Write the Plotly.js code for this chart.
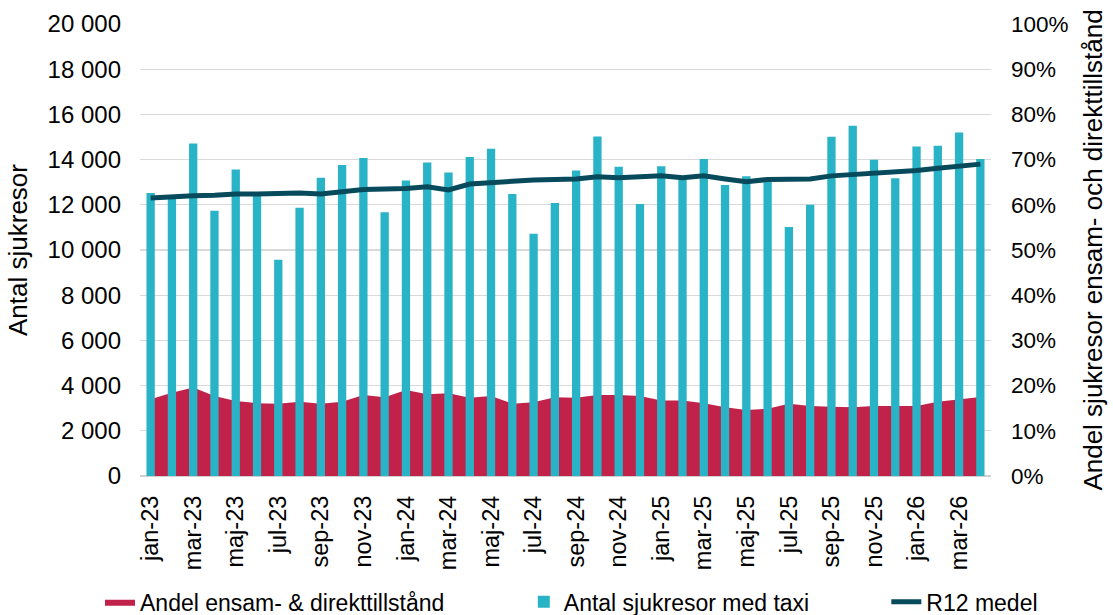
<!DOCTYPE html>
<html>
<head>
<meta charset="utf-8">
<script src="https://cdn.plot.ly/plotly-3.0.1.min.js"></script>
<style>
html,body{margin:0;padding:0;background:#fff;}
#chart{width:1113px;height:615px;}
</style>
</head>
<body>
<div id="chart"></div>
<script>
var categories = [
  'jan-23','feb-23','mar-23','apr-23','maj-23','jun-23','jul-23','aug-23','sep-23','okt-23','nov-23','dec-23',
  'jan-24','feb-24','mar-24','apr-24','maj-24','jun-24','jul-24','aug-24','sep-24','okt-24','nov-24','dec-24',
  'jan-25','feb-25','mar-25','apr-25','maj-25','jun-25','jul-25','aug-25','sep-25','okt-25','nov-25','dec-25',
  'jan-26','feb-26','mar-26','apr-26'
];
var tickLabels = ['jan-23','mar-23','maj-23','jul-23','sep-23','nov-23','jan-24','mar-24','maj-24','jul-24',
  'sep-24','nov-24','jan-25','mar-25','maj-25','jul-25','sep-25','nov-25','jan-26','mar-26'];

var antalTaxi = [
  12525, 12300, 14710, 11740, 13560, 12400, 9570, 11870, 13200, 13765, 14075, 11665,
  13070, 13870, 13425, 14120, 14475, 12480, 10720, 12080, 13515, 15020, 13680, 12035,
  13705, 13150, 14030, 12880, 13260, 13025, 11015, 12005, 15010, 15495, 13990, 13170,
  14580, 14610, 15200, 14030
];
var andelEnsam = [
  17.0, 18.4, 19.6, 17.7, 16.6, 16.1, 16.0, 16.4, 16.0, 16.4, 17.9, 17.4,
  19.0, 18.1, 18.3, 17.3, 17.7, 16.0, 16.3, 17.4, 17.3, 17.9, 17.9, 17.7,
  16.7, 16.7, 16.1, 15.2, 14.6, 14.9, 16.0, 15.5, 15.3, 15.2, 15.5, 15.5,
  15.5, 16.4, 17.0, 17.5
];
var r12Medel = [
  61.5, 61.8, 62.0, 62.1, 62.4, 62.4, 62.6, 62.6, 62.4, 62.9, 63.4, 63.5,
  63.6, 64.0, 63.3, 64.6, 65.0, 65.2, 65.5, 65.7, 65.7, 66.2, 66.0, 66.2,
  66.4, 66.0, 66.4, 65.7, 65.1, 65.6, 65.7, 65.7, 66.4, 66.7, 66.9, 67.3,
  67.6, 68.1, 68.6, 69.0
];

var FONT = 'Liberation Sans, Arial, sans-serif';
var RED = '#C1224A', TEAL = '#29B3C6', DARK = '#064A5C';

var traces = [
  {
    type: 'scatter', x: categories, y: andelEnsam, yaxis: 'y',
    name: 'Andel ensam- & direkttillstånd', mode: 'lines',
    fill: 'tozeroy', fillcolor: RED, line: {width: 0, color: RED},
    legend: 'legend', hoverinfo: 'skip'
  },
  {
    type: 'bar', x: categories, y: antalTaxi, yaxis: 'y2',
    name: 'Antal sjukresor med taxi', marker: {color: TEAL},
    legend: 'legend2'
  },
  {
    type: 'scatter', x: categories, y: r12Medel, yaxis: 'y3',
    name: 'R12 medel', mode: 'lines',
    line: {color: DARK, width: 5},
    legend: 'legend3'
  }
];

var legendBase = {
  orientation: 'h', yanchor: 'top', xanchor: 'left', y: -0.231,
  font: {family: FONT, size: 23, color: '#000'}, bgcolor: 'rgba(0,0,0,0)'
};

var layout = {
  width: 1113, height: 615,
  margin: {l: 140, r: 122, t: 24, b: 139, autoexpand: false},
  paper_bgcolor: '#fff', plot_bgcolor: '#fff',
  separators: ', ',
  bargap: 0.61,
  font: {family: FONT, size: 23, color: '#000'},
  xaxis: {
    type: 'category', categoryorder: 'array', categoryarray: categories,
    range: [-0.5, 39.5],
    tickmode: 'array', tickvals: tickLabels, ticktext: tickLabels,
    tickangle: -90, ticks: '', showgrid: false, showline: false, zeroline: false,
    ticklabelstandoff: 14, automargin: false,
    tickfont: {family: FONT, size: 23.5, color: '#000'}
  },
  yaxis: {
    range: [0, 100], visible: false, fixedrange: true
  },
  yaxis2: {
    overlaying: 'y', side: 'left', range: [0, 20000], dtick: 2000, tick0: 0,
    tickformat: ',d', showgrid: true, gridcolor: '#d9d9d9', gridwidth: 1.3,
    zeroline: true, zerolinecolor: '#d0d0d0', zerolinewidth: 2,
    ticks: '', ticklabelstandoff: 18, automargin: false,
    tickfont: {family: FONT, size: 24, color: '#000'},
    title: {text: 'Antal sjukresor', font: {family: FONT, size: 26, color: '#000'}, standoff: 12}
  },
  yaxis3: {
    overlaying: 'y', side: 'right', range: [0, 100], dtick: 10, tick0: 0,
    ticksuffix: '%', tickformat: 'd', showgrid: false, zeroline: false,
    ticks: '', ticklabelstandoff: 19, automargin: false,
    tickfont: {family: FONT, size: 22.5, color: '#000'},
    title: {text: 'Andel sjukresor ensam- och direkttillstånd', font: {family: FONT, size: 26, color: '#000'}, standoff: 16}
  },
  legend: Object.assign({}, legendBase, {x: -0.047}),
  legend2: Object.assign({}, legendBase, {x: 0.451}),
  legend3: Object.assign({}, legendBase, {x: 0.877}),
  showlegend: true
};

Plotly.newPlot('chart', traces, layout, {displayModeBar: false, staticPlot: true});
</script>
</body>
</html>
